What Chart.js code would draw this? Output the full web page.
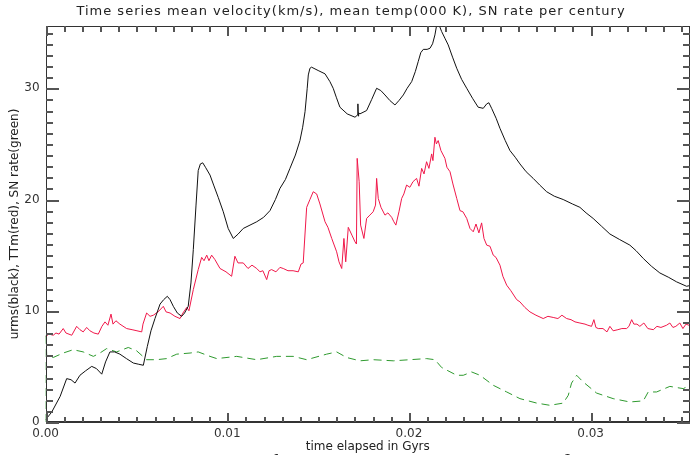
<!DOCTYPE html>
<html>
<head>
<meta charset="utf-8">
<script src="https://cdn.jsdelivr.net/npm/chart.js@4.4.1/dist/chart.umd.min.js"></script>
<style>
html,body{margin:0;padding:0;background:#fff;}
#c{display:block;}
</style>
</head>
<body>
<canvas id="c" width="692" height="455"></canvas>
<script>
// ---- data (time in Gyrs) ----
const urmsTime = [0.00000,0.00034,0.00080,0.00116,0.00140,0.00162,0.00189,0.00220,0.00254,0.00280,0.00309,0.00330,0.00354,0.00380,0.00409,0.00445,0.00483,0.00510,0.00538,0.00560,0.00580,0.00602,0.00630,0.00650,0.00670,0.00685,0.00703,0.00725,0.00749,0.00765,0.00785,0.00800,0.00813,0.00828,0.00840,0.00852,0.00865,0.00880,0.00905,0.00925,0.00950,0.00978,0.01005,0.01033,0.01060,0.01088,0.01125,0.01162,0.01200,0.01235,0.01265,0.01290,0.01320,0.01345,0.01375,0.01400,0.01415,0.01428,0.01440,0.01446,0.01455,0.01464,0.01500,0.01538,0.01565,0.01583,0.01600,0.01620,0.01660,0.01703,0.01717,0.01719,0.01721,0.01723,0.01730,0.01767,0.01795,0.01822,0.01845,0.01868,0.01895,0.01923,0.01945,0.01969,0.01990,0.02015,0.02035,0.02051,0.02065,0.02079,0.02100,0.02116,0.02130,0.02143,0.02156,0.02168,0.02180,0.02198,0.02216,0.02240,0.02263,0.02290,0.02318,0.02350,0.02381,0.02409,0.02428,0.02440,0.02455,0.02480,0.02501,0.02530,0.02556,0.02585,0.02611,0.02645,0.02684,0.02720,0.02758,0.02800,0.02849,0.02900,0.02941,0.02975,0.03014,0.03060,0.03106,0.03160,0.03216,0.03250,0.03290,0.03335,0.03381,0.03430,0.03473,0.03528,0.03556];
const urmsVals = [0.2,0.9,2.3,3.9,3.8,3.5,4.2,4.6,5.0,4.8,4.3,5.4,6.3,6.3,6.1,5.7,5.3,5.2,5.1,6.8,8.2,9.3,10.6,11.0,11.3,11.0,10.4,9.8,9.5,9.8,10.4,12.5,15.5,19.5,22.6,23.2,23.3,22.9,22.2,21.3,20.2,18.9,17.4,16.5,16.9,17.4,17.7,18.0,18.4,19.0,20.0,21.0,21.8,22.8,24.0,25.3,26.5,27.9,30.0,31.2,31.8,31.9,31.6,31.3,30.6,30.0,29.2,28.3,27.7,27.4,27.6,28.6,27.5,27.8,27.7,28.0,29.0,30.0,29.8,29.4,28.9,28.5,28.9,29.4,30.0,30.6,31.5,32.4,33.2,33.5,33.5,33.6,34.0,34.8,36.0,35.6,35.1,34.5,33.9,32.8,31.8,30.8,30.0,29.1,28.3,28.2,28.6,28.7,28.2,27.3,26.4,25.3,24.4,23.8,23.2,22.5,21.9,21.3,20.7,20.3,20.0,19.6,19.3,18.8,18.3,17.6,16.9,16.4,15.9,15.4,14.7,14.0,13.4,13.0,12.6,12.2,12.3];

const ttmTime = [0.00000,0.00019,0.00042,0.00057,0.00074,0.00097,0.00112,0.00144,0.00171,0.00189,0.00207,0.00226,0.00244,0.00266,0.00290,0.00310,0.00327,0.00343,0.00360,0.00371,0.00387,0.00409,0.00446,0.00476,0.00503,0.00529,0.00536,0.00556,0.00575,0.00593,0.00619,0.00648,0.00663,0.00685,0.00712,0.00740,0.00756,0.00777,0.00789,0.00813,0.00840,0.00859,0.00872,0.00887,0.00899,0.00914,0.00932,0.00960,0.00993,0.01024,0.01042,0.01059,0.01088,0.01114,0.01136,0.01162,0.01180,0.01196,0.01217,0.01230,0.01244,0.01268,0.01290,0.01308,0.01334,0.01362,0.01391,0.01406,0.01418,0.01437,0.01455,0.01473,0.01492,0.01510,0.01538,0.01554,0.01575,0.01602,0.01615,0.01630,0.01642,0.01652,0.01666,0.01686,0.01703,0.01711,0.01715,0.01726,0.01734,0.01752,0.01767,0.01785,0.01803,0.01816,0.01822,0.01831,0.01846,0.01868,0.01884,0.01905,0.01917,0.01928,0.01945,0.01960,0.01972,0.01987,0.02005,0.02022,0.02042,0.02055,0.02070,0.02083,0.02097,0.02110,0.02125,0.02132,0.02143,0.02151,0.02161,0.02176,0.02198,0.02209,0.02226,0.02242,0.02263,0.02281,0.02297,0.02318,0.02336,0.02354,0.02369,0.02385,0.02400,0.02413,0.02428,0.02446,0.02464,0.02479,0.02501,0.02517,0.02538,0.02561,0.02593,0.02611,0.02638,0.02666,0.02699,0.02739,0.02765,0.02794,0.02820,0.02842,0.02868,0.02892,0.02914,0.02941,0.02969,0.02985,0.03005,0.03018,0.03029,0.03042,0.03068,0.03090,0.03106,0.03124,0.03150,0.03172,0.03198,0.03211,0.03226,0.03238,0.03255,0.03271,0.03293,0.03315,0.03345,0.03365,0.03387,0.03418,0.03436,0.03453,0.03469,0.03491,0.03508,0.03525,0.03556];
const ttmVals = [7.7,7.9,7.8,8.0,7.9,8.4,8.0,7.8,8.6,8.3,8.1,8.5,8.2,8.0,7.9,8.6,9.0,8.7,9.7,8.8,9.1,8.8,8.4,8.3,8.2,8.1,8.8,9.8,9.5,9.6,9.9,10.4,9.9,9.8,9.5,9.3,9.8,10.3,10.0,11.9,13.7,14.8,14.5,15.0,14.5,15.0,14.6,13.8,13.5,13.1,14.9,14.3,14.3,13.8,14.1,13.8,13.5,13.6,12.8,13.6,13.7,13.5,13.9,13.8,13.6,13.6,13.5,14.2,14.3,19.3,20.0,20.7,20.5,19.6,18.0,17.5,16.5,15.3,14.4,13.8,16.5,14.4,17.5,16.8,16.2,16.0,23.7,21.6,17.7,16.5,18.3,18.6,18.9,19.5,21.9,20.1,19.3,18.6,18.8,18.4,18.0,17.7,18.9,20.1,20.5,21.3,21.1,21.6,21.9,21.2,22.8,22.3,23.4,22.8,24.1,23.5,25.6,25.0,25.3,24.4,23.7,22.9,22.5,21.4,20.1,19.0,18.9,18.3,17.4,17.1,17.8,17.0,17.9,16.5,15.9,15.8,15.0,14.8,14.1,13.1,12.3,11.8,11.0,10.8,10.3,9.9,9.6,9.3,9.5,9.4,9.3,9.6,9.3,9.2,9.0,8.9,8.8,8.7,8.6,9.2,8.5,8.4,8.4,8.1,8.6,8.2,8.3,8.4,8.4,8.6,9.2,8.8,8.8,8.6,8.9,8.4,8.3,8.6,8.5,8.7,8.9,8.5,8.6,8.9,8.4,8.8,8.6];

const snTime = [0.00000,0.00002,0.00006,0.00042,0.00097,0.00152,0.00207,0.00263,0.00299,0.00336,0.00391,0.00455,0.00501,0.00556,0.00611,0.00666,0.00722,0.00795,0.00840,0.00905,0.00942,0.01052,0.01162,0.01272,0.01363,0.01437,0.01547,0.01602,0.01657,0.01730,0.01804,0.01914,0.02005,0.02097,0.02143,0.02180,0.02263,0.02299,0.02345,0.02391,0.02464,0.02538,0.02611,0.02703,0.02776,0.02849,0.02877,0.02895,0.02923,0.02959,0.03033,0.03124,0.03216,0.03290,0.03317,0.03363,0.03436,0.03510,0.03556];
const snVals = [0.0,8.0,6.0,5.8,6.2,6.5,6.3,5.9,6.2,6.6,6.3,6.7,6.4,5.6,5.6,5.7,6.1,6.2,6.3,5.9,5.7,5.9,5.6,5.9,5.9,5.6,6.1,6.3,5.8,5.5,5.6,5.5,5.6,5.7,5.6,4.9,4.2,4.2,4.5,4.2,3.3,2.7,2.1,1.7,1.5,1.7,2.4,3.5,4.2,3.6,2.6,2.1,1.8,1.9,2.7,2.7,3.2,3.0,3.4];

const xMajorTicks = [0.00, 0.01, 0.02, 0.03];
const yMajorTicks = [0, 10, 20, 30];
const xRange = [0, 0.03547];
const yRange = [0, 35.6];

const titleText = 'Time series mean velocity(km/s), mean temp(000 K), SN rate per century';
const xTitle = 'time elapsed in Gyrs';
const yTitle = 'urms(black), TTm(red), SN rate(green)';

function pts(t, v){ return t.map((x,i)=>({x:x, y:v[i]})); }

const framePlugin = {
  id: 'frame',
  afterDraw(chart){
    const ctx = chart.ctx, a = chart.chartArea;
    const xs = chart.scales.x, ys = chart.scales.y;
    ctx.save();
    ctx.setLineDash([]);
    ctx.globalAlpha = 1;
    const L = Math.round(a.left), R = Math.round(a.right)-1;
    const T = Math.round(a.top), B = Math.round(a.bottom);
    // frame
    ctx.fillStyle = '#333333';
    ctx.fillRect(L, T, R-L+1, 1);
    ctx.fillRect(L, B-1, R-L+1, 2);
    ctx.fillRect(L, T, 1, B-T+1);
    ctx.fillRect(R, T, 1, B-T+1);
    // x ticks: minor every 0.001, major every 0.01
    ctx.fillStyle = '#555555';
    for (let i=0;i<=35;i++){
      const v = i*0.001;
      if (v > xRange[1]) break;
      const px = Math.round(xs.getPixelForValue(v));
      const len = (i%10===0) ? 9 : 5;
      ctx.fillRect(px, B-len, 2, len);
      ctx.fillRect(px, T, 2, len+1);
    }
    // y ticks: minor every 1, major every 10
    for (let i=0;i<=35;i++){
      const py = Math.round(ys.getPixelForValue(i));
      const len = (i%10===0) ? 12 : 6;
      ctx.fillRect(L, py, len+1, 2);
      ctx.fillRect(R-len, py, len+1, 2);
    }
    ctx.fillStyle = '#222';
    ctx.font = '13px "DejaVu Sans"';
    ctx.textAlign = 'center';
    ctx.textBaseline = 'middle';
    try { ctx.letterSpacing = '1px'; } catch(e) {}
    ctx.fillText(titleText, 351, 12);
    try { ctx.letterSpacing = '0px'; } catch(e) {}
    ctx.font = '12px "DejaVu Sans"';
    ctx.fillText(xTitle, (a.left+a.right)/2, 447);
    ctx.textBaseline = 'alphabetic';
    ctx.fillText('1', 277, 463);
    ctx.fillText('2', 568, 463);
    ctx.textBaseline = 'middle';
    ctx.translate(15, (a.top+a.bottom)/2);
    ctx.rotate(-Math.PI/2);
    ctx.fillText(yTitle, 0, 0);
    ctx.restore();
  }
};

new Chart(document.getElementById('c'), {
  type: 'line',
  data: {
    datasets: [
      { label:'urms', data: pts(urmsTime, urmsVals), borderColor:'#111', borderWidth:1, pointRadius:0, tension:0 },
      { label:'TTm', data: pts(ttmTime, ttmVals), borderColor:'#f0184a', borderWidth:1, pointRadius:0, tension:0 },
      { label:'SN', data: pts(snTime, snVals), borderColor:'#2f9a2f', borderWidth:1, borderDash:[8,5], pointRadius:0, tension:0 }
    ]
  },
  options: {
    responsive: false,
    animation: false,
    devicePixelRatio: 1,
    layout: { padding: { top: 26, right: 2, left: 0, bottom: 0 } },
    plugins: { legend: { display:false }, title: { display:false }, tooltip: { enabled:false } },
    scales: {
      x: {
        type: 'linear', min: xRange[0], max: xRange[1],
        afterFit(s){ s.height = 33; },
        afterBuildTicks(s){ s.ticks = xMajorTicks.map(v=>({value:v})); },
        ticks: { includeBounds:false, padding: 5, color:'#333', font:{ family:'DejaVu Sans', size:12 }, callback:(v)=>Number(v).toFixed(2), maxRotation:0, autoSkip:false },
        grid: { display:false, drawTicks:false },
        border: { display:false }
      },
      y: {
        type: 'linear', min: yRange[0], max: yRange[1],
        afterFit(s){ s.width = 45.6; },
        afterBuildTicks(s){ s.ticks = yMajorTicks.map(v=>({value:v})); },
        ticks: { includeBounds:false, padding: 6, color:'#333', font:{ family:'DejaVu Sans', size:12 }, callback:(v)=>String(v) },
        grid: { display:false, drawTicks:false },
        border: { display:false }
      }
    }
  },
  plugins: [framePlugin]
});
</script>
</body>
</html>
